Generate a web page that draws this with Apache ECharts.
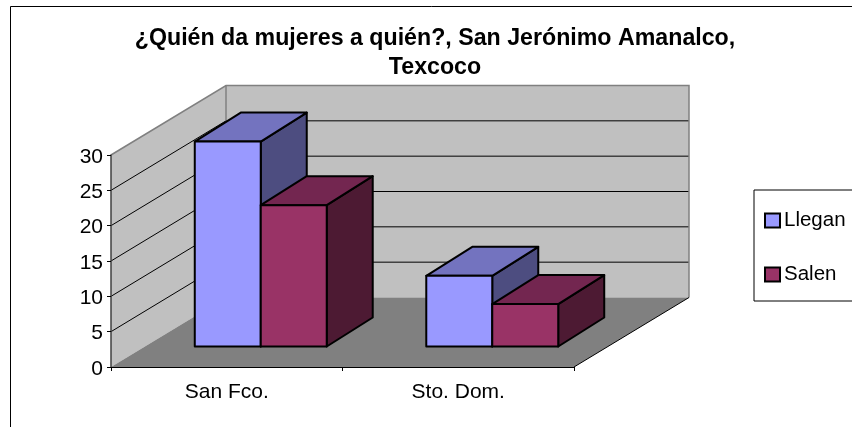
<!DOCTYPE html>
<html><head><meta charset="utf-8">
<style>html,body{margin:0;padding:0;background:#fff;overflow:hidden}#c{width:852px;height:427px}</style>
<script src="https://cdn.jsdelivr.net/npm/echarts@6/dist/echarts.min.js"></script>
</head><body><div id="c"></div>
<script>
const titleText = '¿Quién da mujeres a quién?, San Jerónimo Amanalco,\nTexcoco';
const categories = ['San Fco.', 'Sto. Dom.'];
const llegan = [29, 10];
const salen = [20, 6];
const yTicks = [0, 5, 10, 15, 20, 25, 30];
const seriesNames = ['Llegan', 'Salen'];

const FONT = '"Liberation Sans", Arial, sans-serif';
const WALL = {dx: 115, dy: -69.5};
const BAR_BASE = {dx: 34, dy: -20.5};
const BAR_DEPTH = {dx: 46, dy: -29};
const BAR_RATIO = 0.285;
const BLUE = {front: '#9999FF', top: '#7373BF', side: '#4D4D80'};
const RED = {front: '#993366', top: '#732650', side: '#4D1A33'};

const chart = echarts.init(document.getElementById('c'), null, {renderer: 'canvas'});

function poly(points, fill, stroke, lw) {
  return {type: 'polygon', shape: {points}, style: {fill, stroke: stroke || 'none', lineWidth: lw || 0, lineJoin: 'round'}};
}
function line(points, stroke, lw) {
  return {type: 'polyline', shape: {points}, style: {fill: 'none', stroke, lineWidth: lw}};
}
function shift(p, d) { return [p[0] + d.dx, p[1] + d.dy]; }

function renderWalls(params, api) {
  const band = api.size([1, 0])[0];
  const x0 = api.coord([0, 0])[0] - band / 2;
  const x1 = x0 + band * categories.length;
  const yOf = v => api.coord([0, v])[1];
  const vMin = yTicks[0], vMax = yTicks[yTicks.length - 1];
  const fb = [x0, yOf(vMin)], ft = [x0, yOf(vMax)], rb = [x1, yOf(vMin)];
  const bb = shift(fb, WALL), bt = shift(ft, WALL), brb = shift(rb, WALL), brt = [brb[0], bt[1]];
  const kids = [
    poly([bb, bt, brt, brb], '#C0C0C0'),
    poly([fb, ft, bt, bb], '#C0C0C0'),
    poly([fb, rb, brb, bb], '#808080')
  ];
  yTicks.slice(1, -1).forEach(v => {
    const a = [x0, yOf(v)], b = shift(a, WALL), c = [brb[0], b[1]];
    kids.push(line([a, b, c], '#000', 1));
  });
  kids.push(line([ft, bt, brt, brb], '#808080', 1.5));
  kids.push(line([bt, bb], '#808080', 1.5));
  kids.push(line([rb, brb], '#000', 1));
  return {type: 'group', children: kids};
}

function boxRenderer(colors, side) {
  return function (params, api) {
    const cat = api.value(0), val = api.value(1);
    const band = api.size([1, 0])[0];
    const w = band * BAR_RATIO;
    const cx = api.coord([cat, 0])[0] + BAR_BASE.dx;
    const xl = side < 0 ? cx - w : cx, xr = xl + w;
    const yb = api.coord([cat, 0])[1] + BAR_BASE.dy;
    const yt = yb - (api.coord([cat, 0])[1] - api.coord([cat, val])[1]);
    const a = [xl, yb], b = [xr, yb], c = [xr, yt], d = [xl, yt];
    const lw = 2;
    return {type: 'group', children: [
      poly([b, c, shift(c, BAR_DEPTH), shift(b, BAR_DEPTH)], colors.side, '#000', lw),
      poly([d, c, shift(c, BAR_DEPTH), shift(d, BAR_DEPTH)], colors.top, '#000', lw),
      poly([a, b, c, d], colors.front, '#000', lw)
    ]};
  };
}

chart.setOption({
  animation: false,
  backgroundColor: '#fff',
  title: {
    text: titleText, left: 430, top: 19, textAlign: 'center',
    textStyle: {fontFamily: FONT, fontSize: 23.2, fontWeight: 'bold', color: '#000', lineHeight: 29}
  },
  legend: {
    orient: 'vertical', left: 754, top: 190,
    padding: [20, 100, 16, 10],
    borderColor: '#000', borderWidth: 1, backgroundColor: '#fff',
    itemWidth: 15, itemHeight: 14, itemGap: 33,
    selectedMode: false,
    data: seriesNames.map((name, i) => ({
      name, icon: 'rect',
      itemStyle: {color: (i ? RED : BLUE).front, borderColor: '#000', borderWidth: 2}
    })),
    textStyle: {fontFamily: FONT, fontSize: 20.5, color: '#000', padding: [0, 0, 0, -1]}
  },
  grid: {left: 111, top: 155, width: 463, height: 212, containLabel: false},
  xAxis: {
    type: 'category', data: categories,
    axisLine: {lineStyle: {color: '#000', width: 1}},
    axisTick: {show: true, length: 4, lineStyle: {color: '#000'}},
    axisLabel: {fontFamily: FONT, fontSize: 21, color: '#000', margin: 15},
    splitLine: {show: false}, z: 5
  },
  yAxis: {
    type: 'value', min: yTicks[0], max: yTicks[yTicks.length - 1], interval: yTicks[1] - yTicks[0],
    axisLine: {show: true, lineStyle: {color: '#404040', width: 1.5}},
    axisTick: {show: true, length: 4, lineStyle: {color: '#000'}},
    axisLabel: {fontFamily: FONT, fontSize: 21, color: '#000', margin: 8, verticalAlign: 'top', lineHeight: 4},
    splitLine: {show: false}, z: 5
  },
  graphic: [{
    type: 'rect', z: 100, silent: true,
    shape: {x: 10.5, y: 6.5, width: 1000, height: 600},
    style: {fill: 'none', stroke: '#000', lineWidth: 1}
  }],
  series: [
    {type: 'custom', name: 'walls', silent: true, z: 1, renderItem: renderWalls, data: [[0, 0]], clip: false},
    {type: 'custom', name: seriesNames[0], z: 2, renderItem: boxRenderer(BLUE, -1), clip: false,
      itemStyle: {color: BLUE.front},
      data: llegan.map((v, i) => [i, v])},
    {type: 'custom', name: seriesNames[1], z: 3, renderItem: boxRenderer(RED, 1), clip: false,
      itemStyle: {color: RED.front},
      data: salen.map((v, i) => [i, v])}
  ]
});
</script></body></html>
